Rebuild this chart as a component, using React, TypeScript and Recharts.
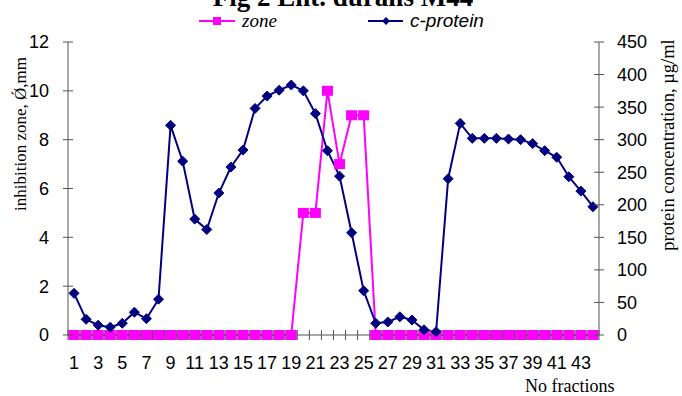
import React from "react";
import { ComposedChart, Line, XAxis, YAxis, Legend } from "recharts";

// fractions 1..44 and readings taken off the figure
const fractions = [
  1, 2, 3, 4, 5, 6, 7, 8, 9, 10, 11, 12, 13, 14, 15, 16, 17, 18, 19, 20, 21, 22,
  23, 24, 25, 26, 27, 28, 29, 30, 31, 32, 33, 34, 35, 36, 37, 38, 39, 40, 41, 42, 43, 44,
];
const zone = [
  0, 0, 0, 0, 0, 0, 0, 0, 0, 0, 0, 0, 0, 0, 0, 0, 0, 0, 0, 5, 5, 10,
  7, 9, 9, 0, 0, 0, 0, 0, 0, 0, 0, 0, 0, 0, 0, 0, 0, 0, 0, 0, 0, 0,
];
const protein = [
  64, 24, 15, 12, 18, 35, 25, 55, 322, 267, 178, 162, 218, 258, 284, 348, 367, 376, 384, 375, 340, 283,
  244, 157, 68, 18, 20, 28, 23, 8, 5, 240, 325, 302, 302, 302, 301, 300, 294, 283, 273, 243, 221, 197,
];
const xLabels = [1, 3, 5, 7, 9, 11, 13, 15, 17, 19, 21, 23, 25, 27, 29, 31, 33, 35, 37, 39, 41, 43];
const zoneTicks = [0, 2, 4, 6, 8, 10, 12];
const proteinTicks = [0, 50, 100, 150, 200, 250, 300, 350, 400, 450];

const data = fractions.map((n, i) => ({ n, zone: zone[i], protein: protein[i] }));
// tick marks sit between the fractions
const boundaries = [...fractions.map((f) => f - 0.5), fractions[fractions.length - 1] + 0.5];

const AXIS = "#555555";
const NAVY = "#000080";
const PINK = "#ff00ff";
const SANS = "'Liberation Sans', Arial, sans-serif";
const SERIF = "'Liberation Serif', 'Times New Roman', serif";

function XTick({ x, y, payload }: any) {
  const v = payload.value;
  if (!Number.isInteger(v)) {
    return <line x1={x} x2={x} y1={y - 5} y2={y + 5} stroke={AXIS} strokeWidth={1} />;
  }
  return (
    <text x={x} y={y + 34} textAnchor="middle" fontFamily={SANS} fontSize={18} fill="#000">
      {v}
    </text>
  );
}

function LeftTick({ x, y, payload }: any) {
  return (
    <g>
      <line x1={x - 5} x2={x + 5} y1={y} y2={y} stroke={AXIS} />
      <text x={x - 19} y={y} dy="0.36em" textAnchor="end" fontFamily={SANS} fontSize={18} fill="#000">
        {payload.value}
      </text>
    </g>
  );
}

function RightTick({ x, y, payload }: any) {
  return (
    <g>
      <line x1={x - 5} x2={x + 5} y1={y} y2={y} stroke={AXIS} />
      <text x={x + 18} y={y} dy="0.36em" textAnchor="start" fontFamily={SANS} fontSize={18} fill="#000">
        {payload.value}
      </text>
    </g>
  );
}

const squareDot = (props: any) => {
  const { cx, cy, index } = props;
  return <rect key={`z${index}`} x={cx - 5.5} y={cy - 5} width={11} height={10} fill={PINK} />;
};

const diamondDot = (props: any) => {
  const { cx, cy, index } = props;
  const r = 5;
  return (
    <polygon
      key={`p${index}`}
      points={`${cx},${cy - r} ${cx + r},${cy} ${cx},${cy + r} ${cx - r},${cy}`}
      fill={NAVY}
      stroke={NAVY}
    />
  );
};

function LegendBox() {
  return (
    <svg width={682} height={26}>
      <line x1={199} x2={235} y1={13} y2={13} stroke={PINK} strokeWidth={2} />
      <rect x={213} y={9} width={8} height={8} fill={PINK} />
      <text x={242} y={19} fontFamily={SERIF} fontStyle="italic" fontSize={19} fill="#000">
        zone
      </text>
      <line x1={368} x2={403} y1={13} y2={13} stroke={NAVY} strokeWidth={2} />
      <polygon points="386,9 390,13 386,17 382,13" fill={NAVY} />
      <text x={410} y={19} fontFamily={SANS} fontStyle="italic" fontSize={19} fill="#000">
        c-protein
      </text>
    </svg>
  );
}

export default function App() {
  return (
    <div style={{ position: "relative", width: 682, height: 396, background: "#fff" }}>
      <style>{"body{margin:0}"}</style>
      <ComposedChart width={682} height={396} data={data} margin={{ top: 42, right: 0, bottom: 0, left: 0 }}>
        <XAxis
          dataKey="n"
          type="number"
          domain={[0.5, 44.5]}
          ticks={[...boundaries, ...xLabels]}
          interval={0}
          height={61}
          tickSize={0}
          tickMargin={0}
          tickLine={false}
          axisLine={{ stroke: AXIS }}
          tick={<XTick />}
        />
        <YAxis
          yAxisId="z"
          domain={[0, 12]}
          ticks={zoneTicks}
          width={68}
          tickSize={0}
          tickMargin={0}
          tickLine={false}
          axisLine={{ stroke: AXIS }}
          tick={<LeftTick />}
        />
        <YAxis
          yAxisId="p"
          orientation="right"
          domain={[0, 450]}
          ticks={proteinTicks}
          width={83}
          tickSize={0}
          tickMargin={0}
          tickLine={false}
          axisLine={{ stroke: AXIS }}
          tick={<RightTick />}
        />
        <Legend
          layout="horizontal"
          verticalAlign="middle"
          align="center"
          wrapperStyle={{ top: 8, left: 0, width: 682, height: 26 }}
          content={() => <LegendBox />}
        />
        <Line
          yAxisId="z"
          dataKey="zone"
          stroke={PINK}
          strokeWidth={2}
          dot={squareDot}
          activeDot={false}
          isAnimationActive={false}
        />
        <Line
          yAxisId="p"
          dataKey="protein"
          stroke={NAVY}
          strokeWidth={2}
          dot={diamondDot}
          activeDot={false}
          isAnimationActive={false}
        />
      </ComposedChart>
      <svg width={682} height={396} style={{ position: "absolute", left: 0, top: 0, pointerEvents: "none" }}>
        <text x={343} y={6} textAnchor="middle" fontFamily={SERIF} fontWeight="bold" fontSize={27} fill="#000">
          Fig 2 Ent. durans M44
        </text>
        <text
          transform="translate(20,134) rotate(-90)"
          textAnchor="middle"
          dominantBaseline="central"
          fontFamily={SERIF}
          fontSize={17}
          fill="#000"
        >
          inhibition zone, Ǿ,mm
        </text>
        <text
          transform="translate(668,145) rotate(-90)"
          textAnchor="middle"
          dominantBaseline="central"
          fontFamily={SERIF}
          fontSize={18.5}
          fill="#000"
        >
          protein concentration,  µg/ml
        </text>
        <text x={525} y={392} fontFamily={SERIF} fontSize={18} fill="#000">
          No fractions
        </text>
      </svg>
    </div>
  );
}
